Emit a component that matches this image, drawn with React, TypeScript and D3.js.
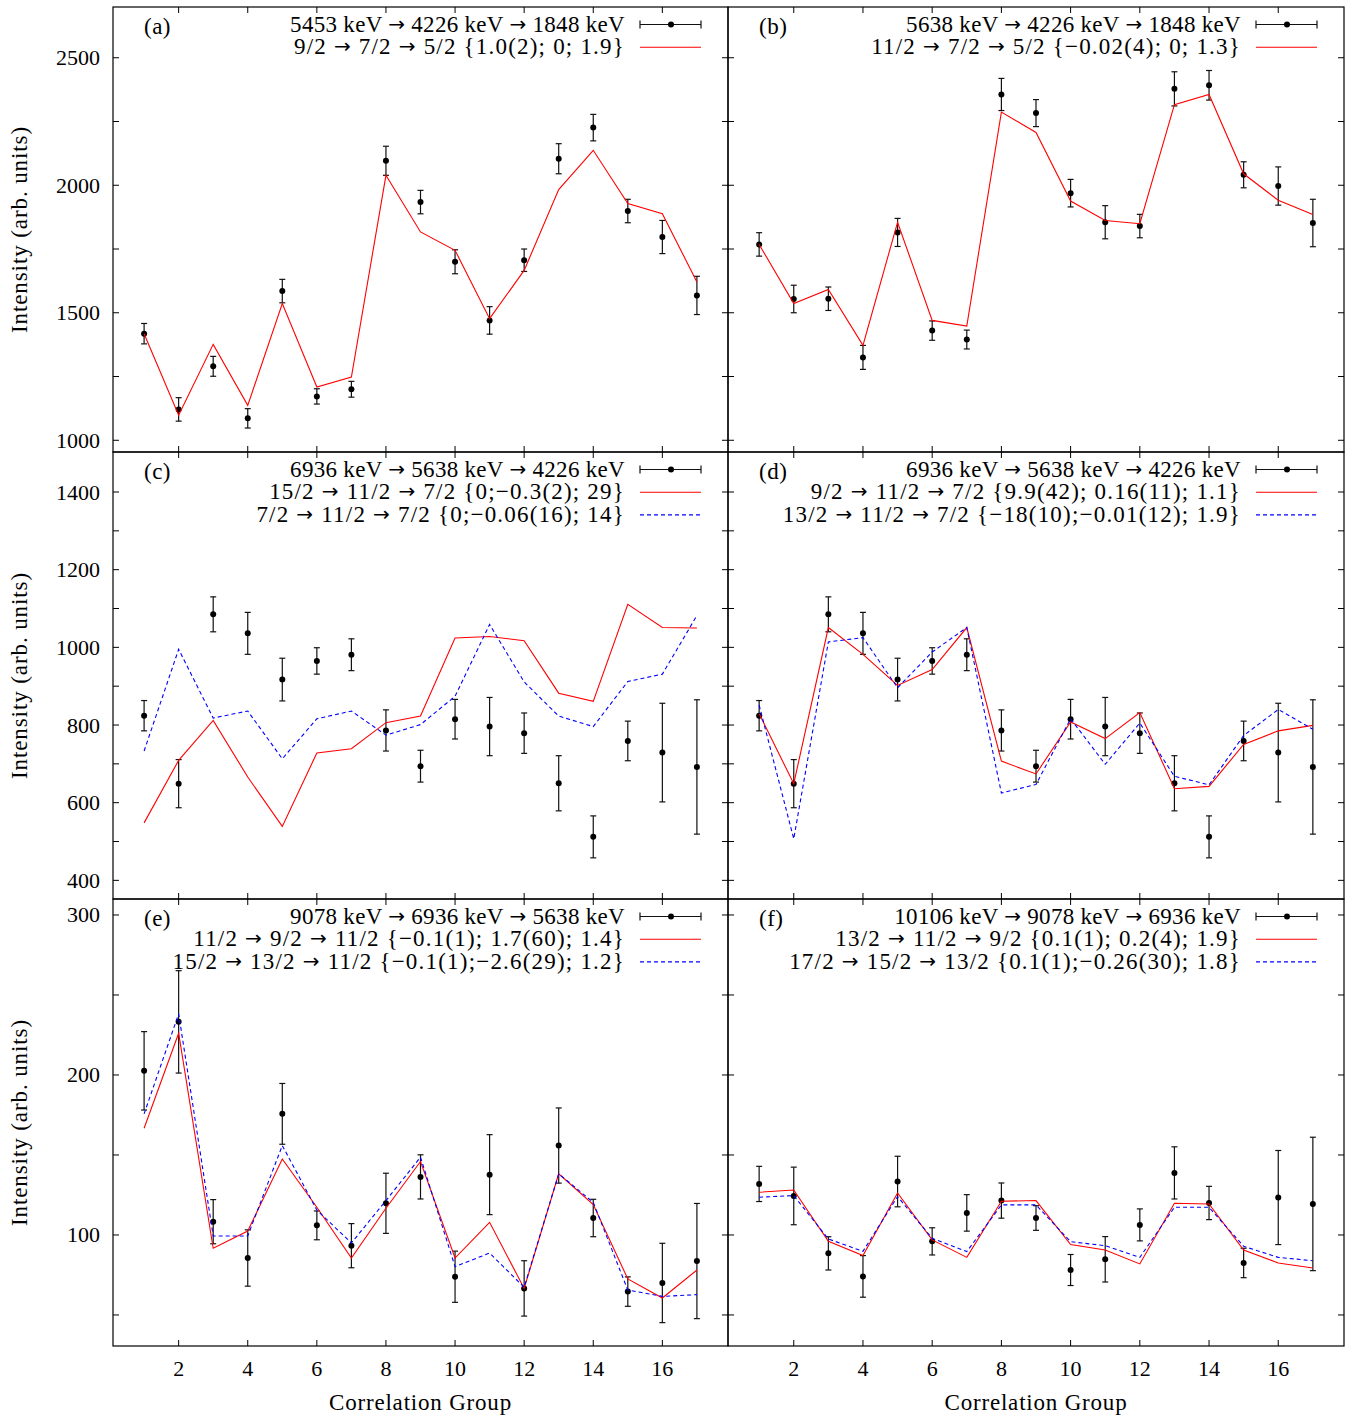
import React from "react";
import * as d3 from "d3";

// correlation groups on the x axis
const groups = [1, 2, 3, 4, 5, 6, 7, 8, 9, 10, 11, 12, 13, 14, 15, 16, 17];
const xTickValues = [2, 4, 6, 8, 10, 12, 14, 16];

// (a) 5453 -> 4226 -> 1848 keV
const aIntensity = [1418, 1121, 1290, 1086, 1585, 1172, 1200, 2096, 1934, 1700, 1470, 1706, 2104, 2226, 1899, 1797, 1568];
const aError = [40, 46, 39, 38, 46, 30, 31, 57, 46, 47, 54, 44, 59, 52, 46, 65, 75];
const aFitRed = [1418, 1098, 1376, 1137, 1536, 1209, 1248, 2039, 1817, 1745, 1477, 1666, 1983, 2137, 1928, 1888, 1621];

// (b) 5638 -> 4226 -> 1848 keV
const bIntensity = [1768, 1554, 1555, 1325, 1815, 1430, 1395, 2356, 2283, 1969, 1855, 1840, 2378, 2392, 2041, 1997, 1852];
const bError = [46, 54, 46, 47, 55, 38, 37, 63, 53, 54, 65, 46, 67, 58, 51, 75, 93];
const bFitRed = [1768, 1536, 1591, 1372, 1855, 1470, 1448, 2287, 2207, 1938, 1862, 1849, 2316, 2356, 2045, 1941, 1885];

// (c), (d) 6936 -> 5638 -> 4226 keV (same data, two sets of fits)
const cdIntensity = [824, 649, 1085, 1036, 917, 965, 981, 786, 694, 815, 796, 779, 650, 512, 759, 729, 692];
const cdError = [39, 62, 45, 54, 55, 34, 41, 53, 41, 51, 75, 52, 71, 54, 51, 127, 173];
const cFitRed = [548, 709, 812, 666, 539, 728, 739, 806, 823, 1024, 1028, 1017, 882, 861, 1111, 1051, 1050];
const cFitBlue = [733, 995, 818, 836, 713, 816, 836, 774, 801, 874, 1059, 911, 823, 796, 912, 931, 1082];
const dFitRed = [829, 649, 1051, 982, 902, 943, 1051, 707, 674, 808, 765, 832, 636, 642, 750, 785, 799];
const dFitBlue = [851, 507, 1014, 1025, 896, 988, 1051, 625, 647, 816, 699, 805, 668, 646, 773, 840, 789];

// (e) 9078 -> 6936 -> 5638 keV
const eIntensity = [202.6, 233.2, 108.3, 85.6, 175.7, 106, 93.3, 119.8, 136.3, 73.9, 137.7, 66.6, 155.9, 110.6, 64.6, 70, 83.7];
const eError = [24.5, 32, 13.8, 17.6, 19, 9, 13.8, 18.8, 13.8, 16, 25, 17.3, 23.5, 11.7, 9.2, 24.8, 36];
const eFitRed = [166.7, 226.1, 91.7, 102.5, 147.5, 117.3, 85.6, 116.7, 145.9, 85.6, 107.9, 66.6, 138.2, 119, 72.5, 60.6, 78.1];
const eFitBlue = [175.7, 238.2, 99.4, 99.4, 155.9, 115.6, 95, 121.5, 148.6, 80.2, 88.7, 67.3, 138.2, 120.4, 65.6, 61.6, 62.7];

// (f) 10106 -> 9078 -> 6936 keV
const fIntensity = [131.9, 124.4, 88.5, 74.1, 133.4, 96, 113.8, 121.5, 110.6, 78.1, 84.8, 106.3, 138.8, 120, 82.5, 123.4, 119.4];
const fError = [11, 18, 10.4, 13, 15.8, 8.5, 11.4, 11, 7.7, 9.7, 14.2, 10, 16.3, 10.4, 9.2, 29.4, 41.7];
const fFitRed = [126.7, 128.1, 96, 87.1, 126.3, 96.9, 86, 121.1, 121.5, 94, 90.6, 81.9, 119.8, 119.4, 90.6, 82.5, 79.4];
const fFitBlue = [123.6, 124.6, 97.5, 89.8, 124, 97.9, 89.6, 118.8, 118.8, 95.8, 93.3, 86, 117.3, 117.3, 92.9, 86, 83.9];

// legend texts
const aLegend = ["5453 keV → 4226 keV → 1848 keV", "9/2 → 7/2 → 5/2 {1.0(2); 0; 1.9}"];
const bLegend = ["5638 keV → 4226 keV → 1848 keV", "11/2 → 7/2 → 5/2 {−0.02(4); 0; 1.3}"];
const cLegend = ["6936 keV → 5638 keV → 4226 keV", "15/2 → 11/2 → 7/2 {0;−0.3(2); 29}", "7/2 → 11/2 → 7/2 {0;−0.06(16); 14}"];
const dLegend = ["6936 keV → 5638 keV → 4226 keV", "9/2 → 11/2 → 7/2 {9.9(42); 0.16(11); 1.1}", "13/2 → 11/2 → 7/2 {−18(10);−0.01(12); 1.9}"];
const eLegend = ["9078 keV → 6936 keV → 5638 keV", "11/2 → 9/2 → 11/2 {−0.1(1); 1.7(60); 1.4}", "15/2 → 13/2 → 11/2 {−0.1(1);−2.6(29); 1.2}"];
const fLegend = ["10106 keV → 9078 keV → 6936 keV", "13/2 → 11/2 → 9/2 {0.1(1); 0.2(4); 1.9}", "17/2 → 15/2 → 13/2 {0.1(1);−0.26(30); 1.8}"];

const W = 1351;
const H = 1416;
const colLeft = [113, 728];
const colRight = [728, 1344];
const rowTop = [7, 452, 899];
const rowBottom = [452, 899, 1346];
const FONT = "'Liberation Serif', 'DejaVu Serif', serif";
const FS = 22;

const rows = [
  { domain: [954, 2699], tickStep: 250, labelStep: 500, first: 1000, last: 2500 },
  { domain: [352, 1503], tickStep: 100, labelStep: 200, first: 400, last: 1400 },
  { domain: [30.6, 310], tickStep: 50, labelStep: 100, first: 50, last: 300 },
];

const RED = { color: "#ff0000", dash: undefined };
const BLUE = { color: "#0000ff", dash: "4,3" };

const panels = [
  { tag: "(a)", col: 0, row: 0, y: aIntensity, err: aError, fits: [{ v: aFitRed, ...RED }], legend: aLegend },
  { tag: "(b)", col: 1, row: 0, y: bIntensity, err: bError, fits: [{ v: bFitRed, ...RED }], legend: bLegend },
  { tag: "(c)", col: 0, row: 1, y: cdIntensity, err: cdError, fits: [{ v: cFitRed, ...RED }, { v: cFitBlue, ...BLUE }], legend: cLegend },
  { tag: "(d)", col: 1, row: 1, y: cdIntensity, err: cdError, fits: [{ v: dFitRed, ...RED }, { v: dFitBlue, ...BLUE }], legend: dLegend },
  { tag: "(e)", col: 0, row: 2, y: eIntensity, err: eError, fits: [{ v: eFitRed, ...RED }, { v: eFitBlue, ...BLUE }], legend: eLegend },
  { tag: "(f)", col: 1, row: 2, y: fIntensity, err: fError, fits: [{ v: fFitRed, ...RED }, { v: fFitBlue, ...BLUE }], legend: fLegend },
];

// arrows are drawn with a font that has a long arrow glyph
function withArrows(txt: string) {
  const parts = txt.split("→");
  const out: any[] = [];
  parts.forEach((s, i) => {
    if (i > 0)
      out.push(
        <tspan key={"ar" + i} fontFamily="'DejaVu Sans', sans-serif" fontSize={FS - 2}>
          →
        </tspan>
      );
    out.push(<tspan key={"t" + i}>{s}</tspan>);
  });
  return out;
}

function Panel({ p }) {
  const left = colLeft[p.col];
  const right = colRight[p.col];
  const top = rowTop[p.row];
  const bottom = rowBottom[p.row];
  const r = rows[p.row];

  const x = d3.scaleLinear().domain([0.1, 17.9]).range([left, right]);
  const y = d3.scaleLinear().domain(r.domain).range([bottom, top]);
  const yTicks = d3.range(r.first, r.last + 1e-6, r.tickStep);
  const tl = 6;

  const line = d3
    .line<number>()
    .x((_, i) => x(groups[i]))
    .y((d) => y(d));

  return (
    <g>
      {/* ticks */}
      {yTicks.map((t) => (
        <g key={"y" + t}>
          <line x1={left} x2={left + tl} y1={y(t)} y2={y(t)} stroke="#000" />
          <line x1={right} x2={right - tl} y1={y(t)} y2={y(t)} stroke="#000" />
          {p.col === 0 && Math.abs(t % r.labelStep) < 1e-6 && (
            <text x={left - 13} y={y(t)} textAnchor="end" dominantBaseline="central" fontSize={FS}>
              {t}
            </text>
          )}
        </g>
      ))}
      {xTickValues.map((t) => (
        <g key={"x" + t}>
          <line x1={x(t)} x2={x(t)} y1={bottom} y2={bottom - tl} stroke="#000" />
          <line x1={x(t)} x2={x(t)} y1={top} y2={top + tl} stroke="#000" />
          {p.row === 2 && (
            <text x={x(t)} y={bottom + 22} textAnchor="middle" dominantBaseline="central" fontSize={FS}>
              {t}
            </text>
          )}
        </g>
      ))}

      {/* error bars and points */}
      {groups.map((g, i) => {
        const cx = x(g);
        const y0 = y(p.y[i] - p.err[i]);
        const y1 = y(p.y[i] + p.err[i]);
        return (
          <g key={"e" + g} stroke="#111" strokeWidth={1.2}>
            <line x1={cx} x2={cx} y1={y0} y2={y1} />
            <line x1={cx - 3} x2={cx + 3} y1={y0} y2={y0} />
            <line x1={cx - 3} x2={cx + 3} y1={y1} y2={y1} />
            <circle cx={cx} cy={y(p.y[i])} r={3} fill="#000" stroke="none" />
          </g>
        );
      })}

      {/* fits */}
      {p.fits.map((f, k) => (
        <path key={"f" + k} d={line(f.v) || ""} fill="none" stroke={f.color} strokeWidth={1.1} strokeDasharray={f.dash} />
      ))}

      {/* panel tag */}
      <text x={left + 31} y={top + 19} dominantBaseline="central" fontSize={FS + 1} letterSpacing={0.5}>
        {p.tag}
      </text>

      {/* legend */}
      {p.legend.map((txt, k) => {
        const ly = top + 17.5 + k * 22.7;
        return (
          <g key={"l" + k}>
            <text
              x={right - 103}
              y={ly - 1}
              textAnchor="end"
              dominantBaseline="central"
              fontSize={FS + 1}
              letterSpacing={k === 0 ? 0.3 : 1.2}
            >
              {withArrows(txt)}
            </text>
            {k === 0 ? (
              <g stroke="#111" strokeWidth={1.2}>
                <line x1={right - 88} x2={right - 27} y1={ly} y2={ly} />
                <line x1={right - 88} x2={right - 88} y1={ly - 4} y2={ly + 4} />
                <line x1={right - 27} x2={right - 27} y1={ly - 4} y2={ly + 4} />
                <circle cx={right - 57} cy={ly} r={3} fill="#000" stroke="none" />
              </g>
            ) : (
              <line
                x1={right - 88}
                x2={right - 27}
                y1={ly}
                y2={ly}
                stroke={p.fits[k - 1].color}
                strokeWidth={1.1}
                strokeDasharray={p.fits[k - 1].dash}
              />
            )}
          </g>
        );
      })}

      <rect x={left} y={top} width={right - left} height={bottom - top} fill="none" stroke="#000" strokeWidth={1.2} />
    </g>
  );
}

export default function App() {
  return (
    <svg
      width={W}
      height={H}
      style={{ position: "absolute", left: 0, top: 0, background: "#fff" }}
      fontFamily={FONT}
      fill="#000"
    >
      <rect width={W} height={H} fill="#fff" />
      {panels.map((p) => (
        <Panel key={p.tag} p={p} />
      ))}
      {rowTop.map((t, i) => (
        <text
          key={"yl" + i}
          transform={`translate(19,${(t + rowBottom[i]) / 2}) rotate(-90)`}
          textAnchor="middle"
          dominantBaseline="central"
          fontSize={FS + 1}
          letterSpacing={0.9}
        >
          Intensity (arb. units)
        </text>
      ))}
      {colLeft.map((l, i) => (
        <text
          key={"xl" + i}
          x={(l + colRight[i]) / 2}
          y={1402}
          textAnchor="middle"
          dominantBaseline="central"
          fontSize={FS + 1}
          letterSpacing={0.8}
        >
          Correlation Group
        </text>
      ))}
    </svg>
  );
}
